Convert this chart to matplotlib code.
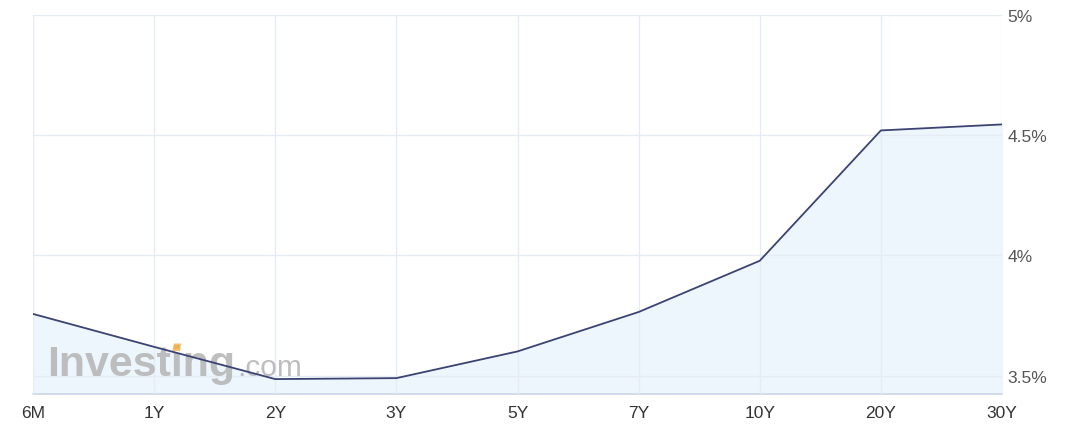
import matplotlib.pyplot as plt
from matplotlib.patches import Polygon
import numpy as np

maturities = ['6M', '1Y', '2Y', '3Y', '5Y', '7Y', '10Y', '20Y', '30Y']
yields = [3.757, 3.62, 3.486, 3.49, 3.601, 3.765, 3.978, 4.520, 4.545]
y_ticks = [3.5, 4.0, 4.5, 5.0]
y_labels = ['3.5%', '4%', '4.5%', '5%']

W, H = 1083, 435
fig = plt.figure(figsize=(W / 100, H / 100), dpi=100)
ax = fig.add_axes([33 / W, 1 - 395 / H, (1002 - 33) / W, (395 - 16) / H])

x = np.arange(len(maturities))
ymin, ymax = 3.424, 5.0

# area + line
ax.fill_between(x, yields, ymin, color='#eef6fd', zorder=2)
ax.plot(x, yields, color='#3b4373', lw=1.3, zorder=4)

ax.set_xlim(0, len(maturities) - 1)
ax.set_ylim(ymin, ymax)

ax.set_xticks(x)
ax.set_xticklabels(maturities, fontsize=12.5, color='#333333', family='Liberation Sans')
ax.set_yticks(y_ticks)
ax.set_yticklabels(y_labels, fontsize=12.5, color='#555555', family='Liberation Sans')
ax.yaxis.tick_right()
ax.tick_params(axis='both', length=0)
ax.tick_params(axis='x', pad=8)
ax.tick_params(axis='y', pad=4)

ax.grid(True, color='#e6ecf5', lw=1, zorder=3)
ax.set_axisbelow(False)
for s in ['top', 'left', 'right']:
    ax.spines[s].set_visible(False)
ax.spines['bottom'].set_color('#ccd6eb')
ax.spines['bottom'].set_linewidth(1.2)

# watermark
ax.text(0.12, 3.505, 'Investing', transform=ax.transData, fontsize=31,
        fontweight='bold', color='#b3b3b3', family='Liberation Sans',
        alpha=0.85, zorder=3, va='baseline')
ax.text(1.69, 3.505, '.com', transform=ax.transData, fontsize=21.5,
        color='#b3b3b3', family='Liberation Sans', alpha=0.85, zorder=3,
        va='baseline')
# little orange accent of the logo
accent = Polygon([[1.150, 3.603], [1.215, 3.603], [1.222, 3.634], [1.165, 3.634]],
                 closed=True, color='#f5b041', alpha=0.8, lw=0, zorder=3)
ax.add_patch(accent)

fig.savefig('out.png', dpi=100)
